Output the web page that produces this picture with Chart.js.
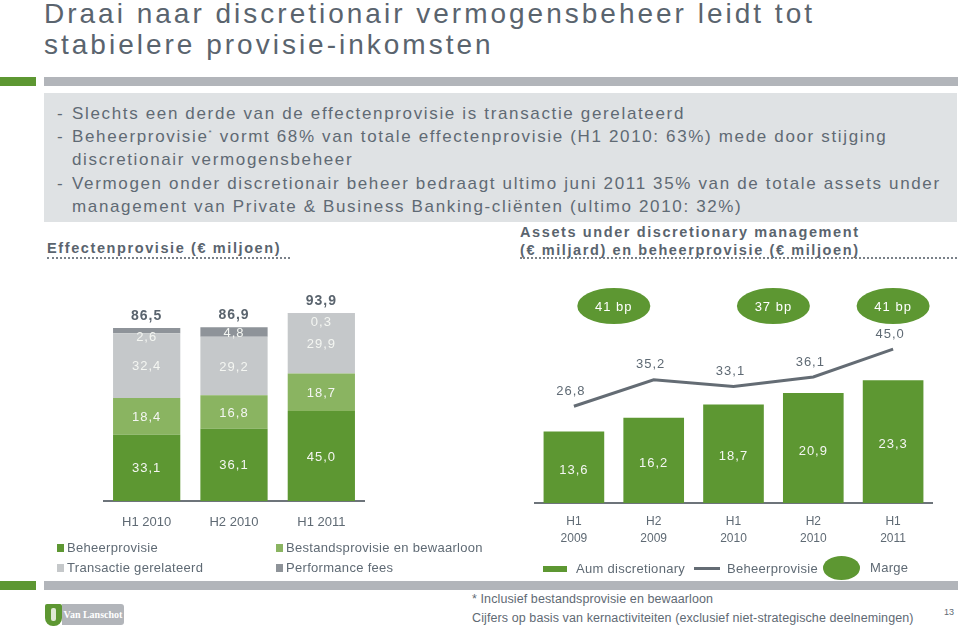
<!DOCTYPE html>
<html><head><meta charset="utf-8">
<script src="https://cdn.jsdelivr.net/npm/chart.js@4.4.0/dist/chart.umd.min.js"></script>
<style>
body{margin:0;width:960px;height:632px;position:relative;background:#fff;font-family:"Liberation Sans",Arial,sans-serif;overflow:hidden;color:#5f6a74}
.abs{position:absolute;white-space:nowrap}
#title{left:44px;top:-2px;font-size:28px;line-height:31px;color:#5a646e;letter-spacing:3px}
.bar{height:9px}
#box{left:44px;top:93px;width:913px;height:129px;background:#dfe2e4}
.bl{left:57px;font-size:17px;letter-spacing:1.65px;color:#5f6a74;line-height:20px}
.bl span.d{display:inline-block;width:15px;letter-spacing:0}
.bl sup{font-size:8px;line-height:0;vertical-align:7px}
.hd{font-size:14.5px;font-weight:bold;letter-spacing:1.6px;color:#5a646e;line-height:18px}
.dot{height:0;border-bottom:2px dotted #7a8189}
.lg{font-size:13px;color:#5f6a74;line-height:16px;letter-spacing:0.3px}
.sq{width:7px;height:8px;display:inline-block;margin-right:3px;vertical-align:-0px}
.fn{font-size:12.5px;color:#5f6a74;letter-spacing:0.1px;line-height:16px}
</style>
</head><body>
<div id="title" class="abs">Draai naar discretionair vermogensbeheer leidt tot<br>stabielere provisie-inkomsten</div>
<div class="abs bar" style="left:0;top:77px;width:36px;background:#5d9732"></div>
<div class="abs bar" style="left:44px;top:77px;width:914px;background:#b2b5ba"></div>
<div id="box" class="abs"></div>
<div class="abs bl" style="top:104px"><span class="d">-</span>Slechts een derde van de effectenprovisie is transactie gerelateerd</div>
<div class="abs bl" style="top:127px"><span class="d">-</span>Beheerprovisie<sup>*</sup> vormt 68% van totale effectenprovisie (H1 2010: 63%) mede door stijging</div>
<div class="abs bl" style="top:150px;left:72px">discretionair vermogensbeheer</div>
<div class="abs bl" style="top:174px"><span class="d">-</span>Vermogen onder discretionair beheer bedraagt ultimo juni 2011 35% van de totale assets under</div>
<div class="abs bl" style="top:197px;left:72px">management van Private &amp; Business Banking-cliënten (ultimo 2010: 32%)</div>

<div class="abs hd" style="left:47px;top:239px">Effectenprovisie (€ miljoen)</div>
<div class="abs dot" style="left:47px;top:257px;width:243px"></div>
<div class="abs hd" style="left:520px;top:223px">Assets under discretionary management</div>
<div class="abs hd" style="left:520px;top:241px">(€ miljard) en beheerprovisie (€ miljoen)</div>
<div class="abs dot" style="left:520px;top:257px;width:437px"></div>

<canvas id="c1" class="abs" style="left:103px;top:281px" width="262" height="260"></canvas>
<canvas id="c2" class="abs" style="left:534px;top:285px" width="399" height="270"></canvas>

<div class="abs lg" style="left:57px;top:540px"><span class="sq" style="background:#5d9732"></span>Beheerprovisie</div>
<div class="abs lg" style="left:276px;top:540px"><span class="sq" style="background:#8ab461"></span>Bestandsprovisie en bewaarloon</div>
<div class="abs lg" style="left:57px;top:560px"><span class="sq" style="background:#c5c8ca"></span>Transactie gerelateerd</div>
<div class="abs lg" style="left:276px;top:560px"><span class="sq" style="background:#8e9399"></span>Performance fees</div>

<div class="abs" style="left:543px;top:566px;width:24px;height:6px;background:#5d9732"></div>
<div class="abs lg" style="left:576px;top:561px">Aum discretionary</div>
<div class="abs" style="left:694px;top:567px;width:26px;height:3px;background:#646c74"></div>
<div class="abs lg" style="left:727px;top:561px">Beheerprovisie</div>
<div class="abs" style="left:823px;top:556px;width:37px;height:24px;border-radius:50%;background:#5d9732"></div>
<div class="abs lg" style="left:870px;top:560px">Marge</div>

<div class="abs bar" style="left:0;top:581px;width:36px;background:#5d9732"></div>
<div class="abs bar" style="left:44px;top:581px;width:914px;background:#b2b5ba"></div>
<div class="abs fn" style="left:472px;top:591px">* Inclusief bestandsprovisie en bewaarloon</div>
<div class="abs fn" style="left:472px;top:610px">Cijfers op basis van kernactiviteiten (exclusief niet-strategische deelnemingen)</div>
<div class="abs" style="left:944px;top:607px;font-size:9px;color:#5f6a74">13</div>
<div class="abs" style="left:45px;top:604px;width:17px;height:22px;background:#5d9732;border-radius:2px 2px 8px 8px"></div>
<div class="abs" style="left:51px;top:608px;width:5px;height:13px;background:#dfe8d5;border-radius:2px"></div>
<div class="abs" style="left:62px;top:604px;width:62px;height:21px;background:#b2b5ba;border-radius:0 3px 3px 0;color:#fff;font-family:'Liberation Serif',serif;font-weight:bold;font-size:10px;line-height:21px;text-align:center">Van Lanschot</div>

<script>
const leftCats = ['H1 2010', 'H2 2010', 'H1 2011'];
const beheerprovisie = [33.1, 36.1, 45.0];
const bestandsprovisie = [18.4, 16.8, 18.7];
const transactie = [32.4, 29.2, 29.9];
const performanceFees = [2.6, 4.8, 0.3];
const leftTotals = [86.5, 86.9, 93.9];

const rightCats = [['H1', '2009'], ['H2', '2009'], ['H1', '2010'], ['H2', '2010'], ['H1', '2011']];
const aumDiscretionary = [13.6, 16.2, 18.7, 20.9, 23.3];
const beheerLine = [26.8, 35.2, 33.1, 36.1, 45.0];
const margeLabels = ['41 bp', '37 bp', '41 bp'];
const margeAt = [0.5, 2.5, 4];

const fmt = v => v.toFixed(1).replace('.', ',');
const FONT = '"Liberation Sans", Arial, sans-serif';
Chart.defaults.font.family = FONT;
Chart.defaults.animation = false;

const leftLabels = {
  id: 'leftLabels',
  afterDatasetsDraw(chart) {
    const ctx = chart.ctx;
    ctx.save();
    ctx.textAlign = 'center';
    ctx.textBaseline = 'middle';
    ctx.letterSpacing = '1px';
    ctx.font = '13px ' + FONT;
    ctx.fillStyle = '#f4f6f2';
    chart.data.datasets.forEach((ds, i) => {
      const meta = chart.getDatasetMeta(i);
      meta.data.forEach((el, j) => {
        const h = el.base - el.y;
        const y = h < 8 ? el.y + 9 : (el.y + el.base) / 2 + 1;
        ctx.fillText(fmt(ds.data[j]), el.x, y);
      });
    });
    const top = chart.getDatasetMeta(chart.data.datasets.length - 1);
    ctx.font = 'bold 14px ' + FONT;
    ctx.fillStyle = '#5a646e';
    top.data.forEach((el, j) => {
      ctx.fillText(fmt(leftTotals[j]), el.x, el.y - 12);
    });
    ctx.restore();
  }
};

new Chart(document.getElementById('c1'), {
  type: 'bar',
  data: {
    labels: leftCats,
    datasets: [
      { label: 'Beheerprovisie', data: beheerprovisie, backgroundColor: '#5d9732' },
      { label: 'Bestandsprovisie en bewaarloon', data: bestandsprovisie, backgroundColor: '#8ab461' },
      { label: 'Transactie gerelateerd', data: transactie, backgroundColor: '#c5c8ca' },
      { label: 'Performance fees', data: performanceFees, backgroundColor: '#8e9399' }
    ]
  },
  options: {
    responsive: false,
    devicePixelRatio: 1,
    layout: { padding: { top: 20, left: 0, right: 0, bottom: 0 } },
    datasets: { bar: { barPercentage: 0.77, categoryPercentage: 1 } },
    plugins: { legend: { display: false }, tooltip: { enabled: false } },
    scales: {
      x: {
        stacked: true,
        grid: { display: false, drawTicks: false },
        border: { display: true, color: '#6d747a', width: 2 },
        ticks: { color: '#5f6a74', font: { size: 13 }, padding: 14 },
        afterFit: s => { s.height = 40; }
      },
      y: { stacked: true, display: false, min: 0, max: 100 }
    }
  },
  plugins: [leftLabels]
});

const rightLabels = {
  id: 'rightLabels',
  afterDatasetsDraw(chart) {
    const ctx = chart.ctx;
    ctx.save();
    ctx.textAlign = 'center';
    ctx.textBaseline = 'middle';
    ctx.letterSpacing = '1px';
    ctx.font = '13px ' + FONT;
    const barMeta = chart.getDatasetMeta(1);
    ctx.fillStyle = '#f4f6f2';
    barMeta.data.forEach((el, j) => {
      ctx.fillText(fmt(aumDiscretionary[j]), el.x, (el.y + el.base) / 2 + 3);
    });
    const lineMeta = chart.getDatasetMeta(0);
    ctx.fillStyle = '#5f6a74';
    lineMeta.data.forEach((el, j) => {
      ctx.fillText(fmt(beheerLine[j]), el.x - 3, el.y - 15);
    });
    const xs = chart.scales.x;
    margeAt.forEach((pos, k) => {
      const i0 = Math.floor(pos), f = pos - i0;
      const x0 = xs.getPixelForValue(i0);
      const x = f ? x0 + f * (xs.getPixelForValue(i0 + 1) - x0) : x0;
      ctx.beginPath();
      ctx.ellipse(x, 21, 36.5, 18, 0, 0, Math.PI * 2);
      ctx.fillStyle = '#5d9732';
      ctx.fill();
      ctx.fillStyle = '#ffffff';
      ctx.fillText(margeLabels[k], x, 22);
    });
    ctx.restore();
  }
};

new Chart(document.getElementById('c2'), {
  type: 'bar',
  data: {
    labels: rightCats,
    datasets: [
      { type: 'line', label: 'Beheerprovisie', data: beheerLine, yAxisID: 'y1', borderColor: '#646c74', borderWidth: 3, pointRadius: 0, tension: 0, order: 0 },
      { type: 'bar', label: 'Aum discretionary', data: aumDiscretionary, yAxisID: 'y', backgroundColor: '#5d9732', barPercentage: 0.76, categoryPercentage: 1, order: 1 }
    ]
  },
  options: {
    responsive: false,
    devicePixelRatio: 1,
    layout: { padding: 0 },
    plugins: { legend: { display: false }, tooltip: { enabled: false } },
    scales: {
      x: {
        grid: { display: false, drawTicks: false },
        border: { display: true, color: '#6d747a', width: 2 },
        ticks: { color: '#5f6a74', font: { size: 12, lineHeight: 1.35 }, padding: 11 },
        afterFit: s => { s.height = 52; }
      },
      y: { display: false, min: 0, max: 41.4 },
      y1: { display: false, min: -4, max: 65.4 }
    }
  },
  plugins: [rightLabels]
});
</script>
</body></html>
